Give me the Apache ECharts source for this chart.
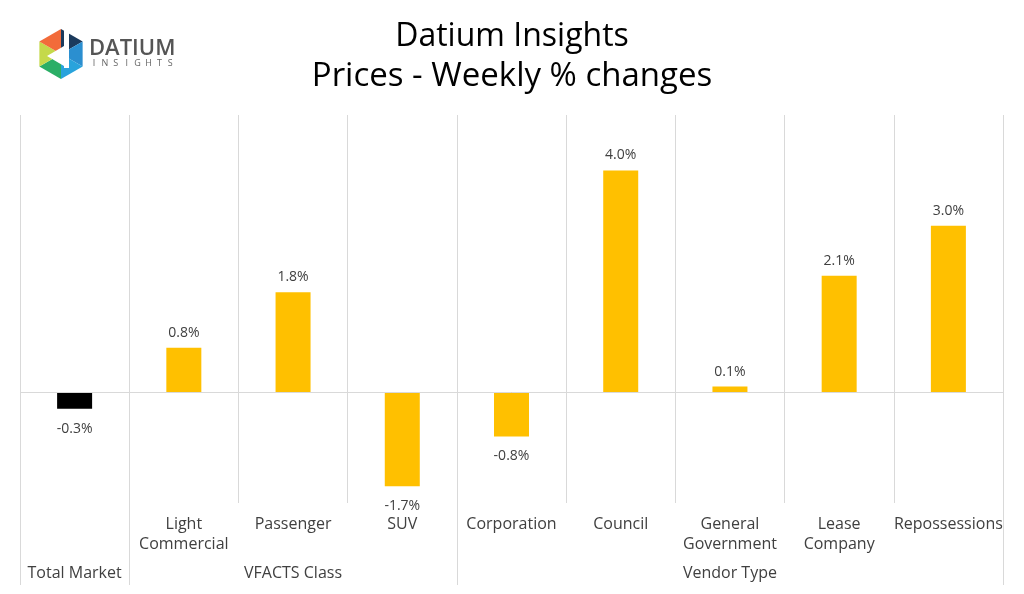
<!DOCTYPE html>
<html><head><meta charset="utf-8">
<script src="https://cdn.jsdelivr.net/npm/echarts@6/dist/echarts.min.js"></script>
<style>html,body{margin:0;padding:0;background:#fff}#c{width:1024px;height:594px}</style>
</head><body><div id="c"></div>
<script>
const categories = ['Total Market', 'Light\nCommercial', 'Passenger', 'SUV', 'Corporation', 'Council', 'General\nGovernment', 'Lease\nCompany', 'Repossessions'];
const values = [-0.3, 0.8, 1.8, -1.7, -0.8, 4.0, 0.1, 2.1, 3.0];
const groupNames = ['Total Market', 'VFACTS Class', 'Vendor Type'];
const groupCenters = [0.5, 2.5, 6.5];
const groupBounds = [0, 1, 4, 9];
const barColors = ['#000000', '#FFC000', '#FFC000', '#FFC000', '#FFC000', '#FFC000', '#FFC000', '#FFC000', '#FFC000'];

const FONT = 'Open Sans';
const chart = echarts.init(document.getElementById('c'), null, {renderer: 'canvas'});

// logo hexagon triangles
const cx = 61, cy = 54, r = 25;
const verts = [];
for (let i = 0; i < 6; i++) {
  const a = Math.PI / 180 * (-90 + 60 * i);
  verts.push([cx + r * Math.cos(a), cy + r * Math.sin(a)]);
}
const triColors = ['#1b3a5c', '#2b8fd0', '#29a3dc', '#2bae66', '#c5d94a', '#f26b3a'];
const logo = [];
for (let i = 0; i < 6; i++) {
  logo.push({type: 'polygon', shape: {points: [[cx, cy], verts[i], verts[(i + 1) % 6]]}, style: {fill: triColors[i]}});
}
logo.push({type: 'polygon', shape: {points: [[cx - 14, cy + 2], [cx + 3, cy - 8], [cx + 3, cy + 12]]}, style: {fill: '#ffffff'}});
logo.push({type: 'rect', shape: {x: cx + 3, y: cy - 24, width: 5, height: 38}, style: {fill: '#ffffff'}});
logo.push({type: 'text', style: {x: 89, y: 49, text: 'DATIUM', fill: '#555555', font: '600 22px ' + FONT, textVerticalAlign: 'middle'}});
const ins = 'INSIGHTS';
for (let i = 0; i < ins.length; i++) {
  logo.push({type: 'text', style: {x: 94 + i * 10.9, y: 63, text: ins[i], fill: '#666666', font: '9px ' + FONT, textAlign: 'center', textVerticalAlign: 'middle'}});
}

chart.setOption({
  animation: false,
  backgroundColor: '#ffffff',
  title: [
    {text: 'Datium Insights', left: 'center', top: 16, textStyle: {fontFamily: FONT, fontSize: 32, fontWeight: 'normal', color: '#000'}},
    {text: 'Prices - Weekly % changes', left: 'center', top: 55, textStyle: {fontFamily: FONT, fontSize: 33, fontWeight: 'normal', color: '#000'}}
  ],
  graphic: logo,
  grid: {left: 20, right: 21, top: 115, bottom: 91, containLabel: false},
  xAxis: [
    {
      type: 'category', data: categories, boundaryGap: true,
      axisLine: {show: false}, axisTick: {show: false},
      axisLabel: {interval: 0, margin: 11, fontFamily: FONT, fontSize: 16, lineHeight: 20, color: '#404040', verticalAlign: 'top',
        formatter: function (v, i) { return i === 0 ? '' : v; }},
      splitLine: {show: true, interval: 0, lineStyle: {color: '#d9d9d9', width: 1}}
    },
    {
      type: 'value', min: 0, max: 9, position: 'bottom',
      axisLine: {show: false}, splitLine: {show: false},
      axisTick: {show: true, length: 82, customValues: groupBounds, lineStyle: {color: '#d9d9d9', width: 1}},
      axisLabel: {show: true, customValues: groupCenters, margin: 62, fontFamily: FONT, fontSize: 16, color: '#404040',
        formatter: function (v) { const i = groupCenters.indexOf(v); return i >= 0 ? groupNames[i] : ''; }}
    }
  ],
  yAxis: {type: 'value', min: -2, max: 5, interval: 1, show: false, splitLine: {show: false}},
  series: [{
    type: 'bar', xAxisIndex: 0, barWidth: 35,
    data: values.map((v, i) => ({
      value: v,
      itemStyle: {color: barColors[i]},
      label: {position: v < 0 ? 'bottom' : 'top', distance: v < 0 ? 13 : 8}
    })),
    label: {show: true, fontFamily: FONT, fontSize: 14, color: '#404040',
      formatter: p => p.value.toFixed(1) + '%'},
    markLine: {silent: true, symbol: 'none', label: {show: false}, lineStyle: {color: '#d9d9d9', type: 'solid', width: 1},
      data: [{yAxis: 0}]}
  }]
});
</script></body></html>
